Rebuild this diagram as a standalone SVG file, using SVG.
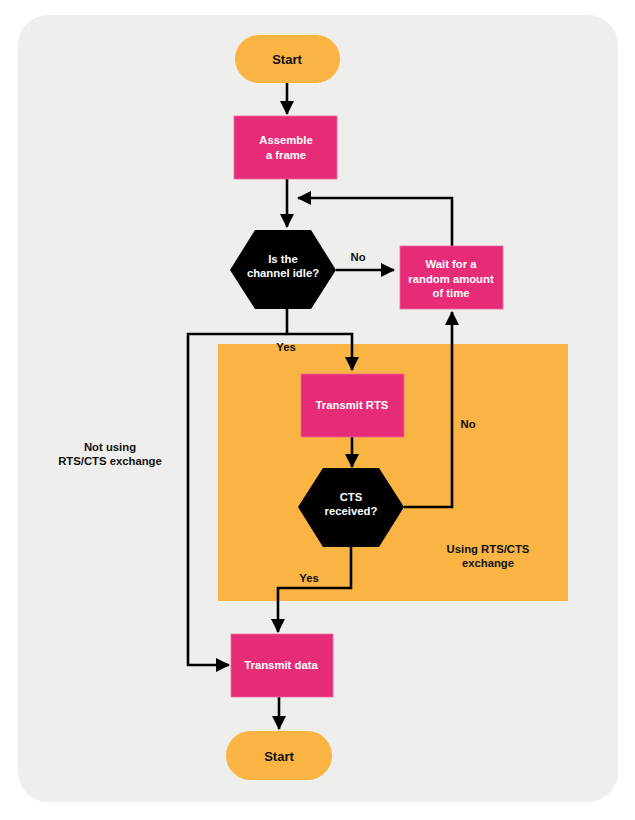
<svg xmlns="http://www.w3.org/2000/svg" width="635" height="820" viewBox="0 0 635 820">
  <style>
    .bg { fill: #eeeeec; }
    .term { fill: #f9b444; }
    .proc { fill: #e72c77; stroke: #f06a9e; stroke-width: 0.8; }
    .dec { fill: #000000; }
    .zone { fill: #f9b444; }
    .line { fill: none; stroke: #000000; stroke-width: 2.6; }
    text { font-family: "Liberation Sans", Arial, sans-serif; font-weight: bold; font-size: 11.3px; text-anchor: middle; }
    .dark { fill: #111111; }
    .light { fill: #ffffff; }
    .big { font-size: 13px; }
  </style>
  <defs>
    <marker id="arrow" markerUnits="userSpaceOnUse" markerWidth="16" markerHeight="16" viewBox="0 0 16 16" refX="14" refY="8" orient="auto">
      <path d="M1,1 L15,8 L1,15 Z" fill="#000000"/>
    </marker>
  </defs>

  <!-- page background -->
  <rect class="bg" x="18" y="15" width="600" height="787" rx="30" ry="30"/>

  <!-- RTS/CTS zone -->
  <g id="zone-rts-cts">
    <rect class="zone" x="218" y="344" width="350" height="257"/>
    <text class="dark" x="488" y="553">Using RTS/CTS</text>
    <text class="dark" x="488" y="567">exchange</text>
  </g>

  <!-- connectors -->
  <g id="connectors">
    <path class="line" d="M287,83 V114" marker-end="url(#arrow)"/>
    <path class="line" d="M287,179 V227" marker-end="url(#arrow)"/>
    <path class="line" d="M336,270 H394" marker-end="url(#arrow)"/>
    <path class="line" d="M452,246 V198 H298" marker-end="url(#arrow)"/>
    <path class="line" d="M287,309 V334 H352 V370" marker-end="url(#arrow)"/>
    <path class="line" d="M287,334 H188 V665 H229" marker-end="url(#arrow)"/>
    <path class="line" d="M352,437 V467" marker-end="url(#arrow)"/>
    <path class="line" d="M404,507 H452 V312" marker-end="url(#arrow)"/>
    <path class="line" d="M351,547 V588 H278 V632" marker-end="url(#arrow)"/>
    <path class="line" d="M279,697 V729" marker-end="url(#arrow)"/>
    <text class="dark" x="358" y="261">No</text>
    <text class="dark" x="286" y="351">Yes</text>
    <text class="dark" x="468" y="428">No</text>
    <text class="dark" x="309" y="582">Yes</text>
    <text class="dark" x="110" y="451">Not using</text>
    <text class="dark" x="110" y="465">RTS/CTS exchange</text>
  </g>

  <g id="start">
    <rect class="term" x="235" y="35" width="105" height="48" rx="24" ry="24"/>
    <text class="dark big" x="287" y="64">Start</text>
  </g>

  <g id="assemble">
    <rect class="proc" x="234" y="116" width="103" height="63"/>
    <text class="light" x="286" y="144">Assemble</text>
    <text class="light" x="286" y="159">a frame</text>
  </g>

  <g id="channel-idle">
    <polygon class="dec" points="230,270 255,230 311,230 336,270 311,309 255,309"/>
    <text class="light" x="283" y="263">Is the</text>
    <text class="light" x="283" y="277">channel idle?</text>
  </g>

  <g id="wait">
    <rect class="proc" x="400" y="246" width="103" height="63"/>
    <text class="light" x="451" y="268">Wait for a</text>
    <text class="light" x="451" y="283">random amount</text>
    <text class="light" x="451" y="297">of time</text>
  </g>

  <g id="transmit-rts">
    <rect class="proc" x="301" y="374" width="103" height="63"/>
    <text class="light" x="352" y="409">Transmit RTS</text>
  </g>

  <g id="cts-received">
    <polygon class="dec" points="298,507 323,468 379,468 404,507 379,547 323,547"/>
    <text class="light" x="351" y="501">CTS</text>
    <text class="light" x="351" y="515">received?</text>
  </g>

  <g id="transmit-data">
    <rect class="proc" x="231" y="634" width="102" height="63"/>
    <text class="light" x="281" y="669">Transmit data</text>
  </g>

  <g id="end">
    <rect class="term" x="226" y="731" width="106" height="49" rx="24.5" ry="24.5"/>
    <text class="dark big" x="279" y="761">Start</text>
  </g>
</svg>
